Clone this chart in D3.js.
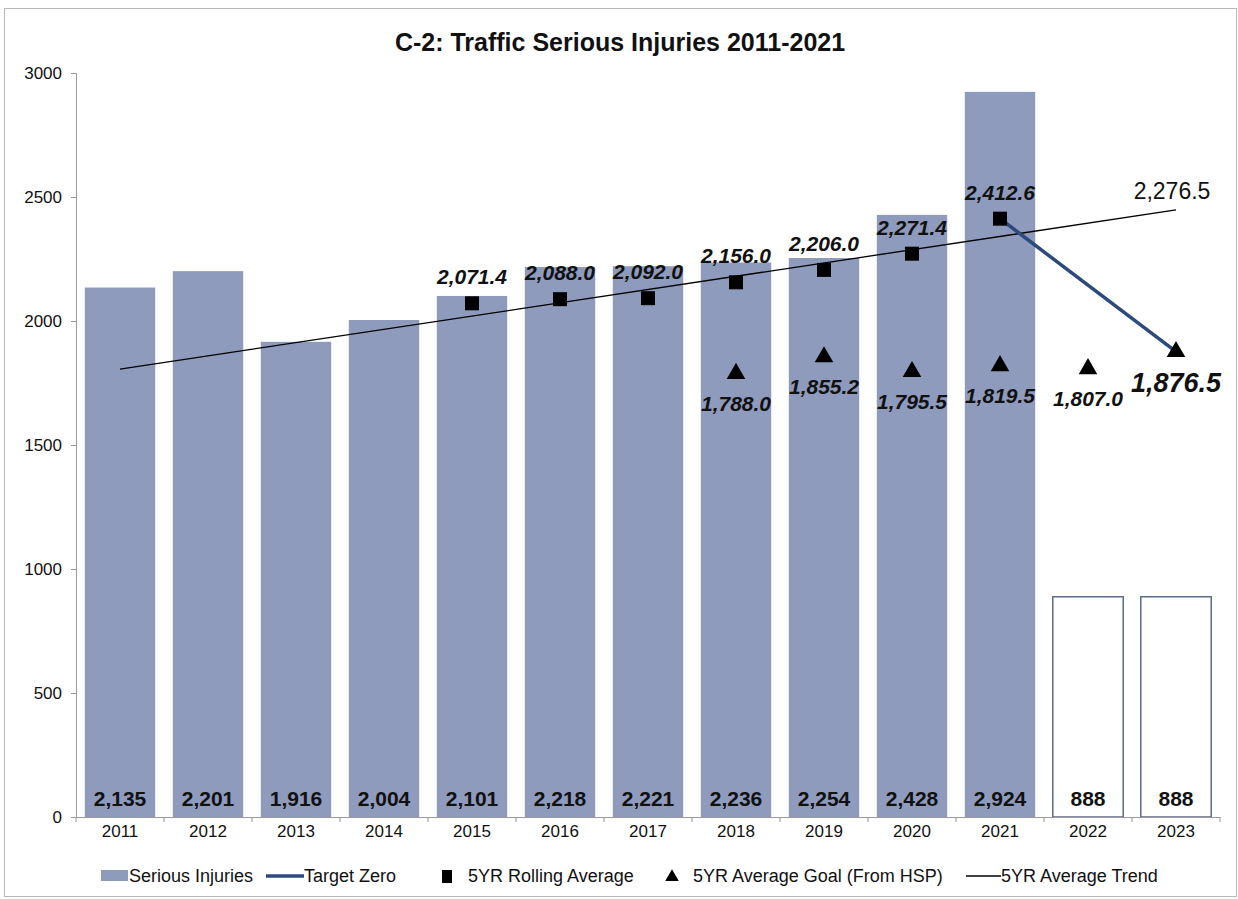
<!DOCTYPE html>
<html><head><meta charset="utf-8">
<script src="https://cdn.jsdelivr.net/npm/d3@7"></script>
<style>body{margin:0;background:#fff}svg{display:block;font-family:"Liberation Sans",Arial,sans-serif}</style>
</head><body><svg id="c" width="1238" height="899"></svg>
<script>
const years = ["2011","2012","2013","2014","2015","2016","2017","2018","2019","2020","2021","2022","2023"];
const injuries = [2135,2201,1916,2004,2101,2218,2221,2236,2254,2428,2924,888,888];
const projected = [false,false,false,false,false,false,false,false,false,false,false,true,true];
const rollingYears = ["2015","2016","2017","2018","2019","2020","2021"];
const rollingAvg = [2071.4,2088.0,2092.0,2156.0,2206.0,2271.4,2412.6];
const goalYears = ["2018","2019","2020","2021","2022","2023"];
const goalAvg = [1788.0,1855.2,1795.5,1819.5,1807.0,1876.5];
const targetYears = ["2021","2023"];
const targetVals = [2412.6,1876.5];
const trendYears = ["2011","2023"];
const trendVals = [1806,2448];
const trendLabel = "2,276.5";
const yTicks = [0,500,1000,1500,2000,2500,3000];

const svg = d3.select("#c");
const m = {l:76};
const x = d3.scaleBand().domain(years).range([m.l, m.l + 13*88]).paddingInner(0.2).paddingOuter(0.1);
const y = d3.scaleLinear().domain([0,3000]).range([817,73]);
const cx = d => x(d) + x.bandwidth()/2;
const fmt = d3.format(",");
const fmt1 = d3.format(",.1f");

svg.append("rect").attr("x",4.5).attr("y",8.5).attr("width",1232).attr("height",888).attr("fill","none").attr("stroke","#b8b8b8");

svg.append("text").attr("x",620).attr("y",51).attr("text-anchor","middle")
  .attr("font-size",25).attr("font-weight","bold").attr("fill","#111").text("C-2: Traffic Serious Injuries 2011-2021");

// bars
svg.append("g").selectAll("rect").data(years).join("rect")
  .attr("x", d=>x(d)).attr("width", x.bandwidth())
  .attr("y", (d,i)=>y(injuries[i])).attr("height",(d,i)=>y(0)-y(injuries[i]))
  .attr("fill",(d,i)=>projected[i]?"#fff":"#8f9bbd")
  .attr("stroke",(d,i)=>projected[i]?"#5b6b85":"none").attr("stroke-width",1.5);

// axes
const ya = svg.append("g").attr("transform",`translate(${m.l},0)`).call(d3.axisLeft(y).tickValues(yTicks).tickSize(5).tickPadding(9).tickFormat(d=>d));
ya.select(".domain").attr("stroke","#999");
ya.selectAll(".tick line").attr("stroke","#999");
ya.selectAll("text").attr("font-size",17).attr("fill","#111").attr("font-family","Liberation Sans, Arial");

const xa = svg.append("g").attr("transform",`translate(0,${y(0)})`).call(d3.axisBottom(x).tickSize(0).tickPadding(8));
xa.select(".domain").attr("stroke","#999");
xa.selectAll("text").attr("font-size",17).attr("fill","#111").attr("font-family","Liberation Sans, Arial");
const bounds = years.map(d=>x(d)-x.step()*x.paddingInner()/2).concat([x(years[12])+x.bandwidth()+x.step()*x.paddingInner()/2]);
svg.append("g").selectAll("line").data(bounds).join("line")
  .attr("x1",d=>d).attr("x2",d=>d).attr("y1",y(0)).attr("y2",y(0)+5).attr("stroke","#999");

// bar value labels
svg.append("g").selectAll("text").data(years).join("text")
  .attr("x",d=>cx(d)).attr("y",806).attr("text-anchor","middle")
  .attr("font-size",21).attr("font-weight","bold").attr("fill","#111")
  .text((d,i)=>fmt(injuries[i]));

// trend line
svg.append("line").attr("x1",cx(trendYears[0])).attr("y1",y(trendVals[0]))
  .attr("x2",cx(trendYears[1])).attr("y2",y(trendVals[1])).attr("stroke","#000").attr("stroke-width",1.3);
svg.append("text").attr("x",cx(trendYears[1])-4).attr("y",y(trendVals[1])-11).attr("text-anchor","middle")
  .attr("font-size",23).attr("fill","#111").text(trendLabel);

// target zero
svg.append("path").attr("d", d3.line().x(d=>cx(d[0])).y(d=>y(d[1]))(targetYears.map((d,i)=>[d,targetVals[i]])))
  .attr("stroke","#2c4a7c").attr("stroke-width",3.5).attr("fill","none");

// squares
svg.append("g").selectAll("rect").data(rollingYears).join("rect")
  .attr("x",d=>cx(d)-7).attr("y",(d,i)=>y(rollingAvg[i])-7).attr("width",14).attr("height",14).attr("fill","#000");
svg.append("g").selectAll("text").data(rollingYears).join("text")
  .attr("x",d=>cx(d)).attr("y",(d,i)=>y(rollingAvg[i])-19).attr("text-anchor","middle")
  .attr("font-size",21).attr("font-weight","bold").attr("font-style","italic").attr("fill","#111")
  .text((d,i)=>fmt1(rollingAvg[i]));

// triangles
const tri = d3.symbol().type(d3.symbolTriangle).size(150);
svg.append("g").selectAll("path").data(goalYears).join("path")
  .attr("d",tri).attr("transform",(d,i)=>`translate(${cx(d)},${y(goalAvg[i])})`).attr("fill","#000");
svg.append("g").selectAll("text").data(goalYears).join("text")
  .attr("x",d=>cx(d)).attr("y",(d,i)=> d==="2023" ? y(goalAvg[i])+40 : y(goalAvg[i])+37)
  .attr("text-anchor","middle")
  .attr("font-size",(d)=>d==="2023"?27:21).attr("font-weight","bold").attr("font-style","italic").attr("fill","#111")
  .text((d,i)=>fmt1(goalAvg[i]));

// legend
const lg = svg.append("g").attr("font-size",18).attr("fill","#111");
const ly = 876;
lg.append("rect").attr("x",101).attr("y",ly-6).attr("width",27).attr("height",11).attr("fill","#8f9bbd");
lg.append("text").attr("x",129).attr("y",ly+6).text("Serious Injuries");
lg.append("line").attr("x1",266).attr("x2",304).attr("y1",ly).attr("y2",ly).attr("stroke","#2c4a7c").attr("stroke-width",3.5);
lg.append("text").attr("x",304).attr("y",ly+6).text("Target Zero");
lg.append("rect").attr("x",442).attr("y",ly-6).attr("width",10).attr("height",13).attr("fill","#000");
lg.append("text").attr("x",468).attr("y",ly+6).text("5YR Rolling Average");
lg.append("path").attr("d",d3.symbol().type(d3.symbolTriangle).size(80)).attr("transform",`translate(672,${ly+1})`).attr("fill","#000");
lg.append("text").attr("x",693).attr("y",ly+6).text("5YR Average Goal (From HSP)");
lg.append("line").attr("x1",966).attr("x2",1001).attr("y1",ly).attr("y2",ly).attr("stroke","#000").attr("stroke-width",1.3);
lg.append("text").attr("x",1001).attr("y",ly+6).text("5YR Average Trend");
</script></body></html>
